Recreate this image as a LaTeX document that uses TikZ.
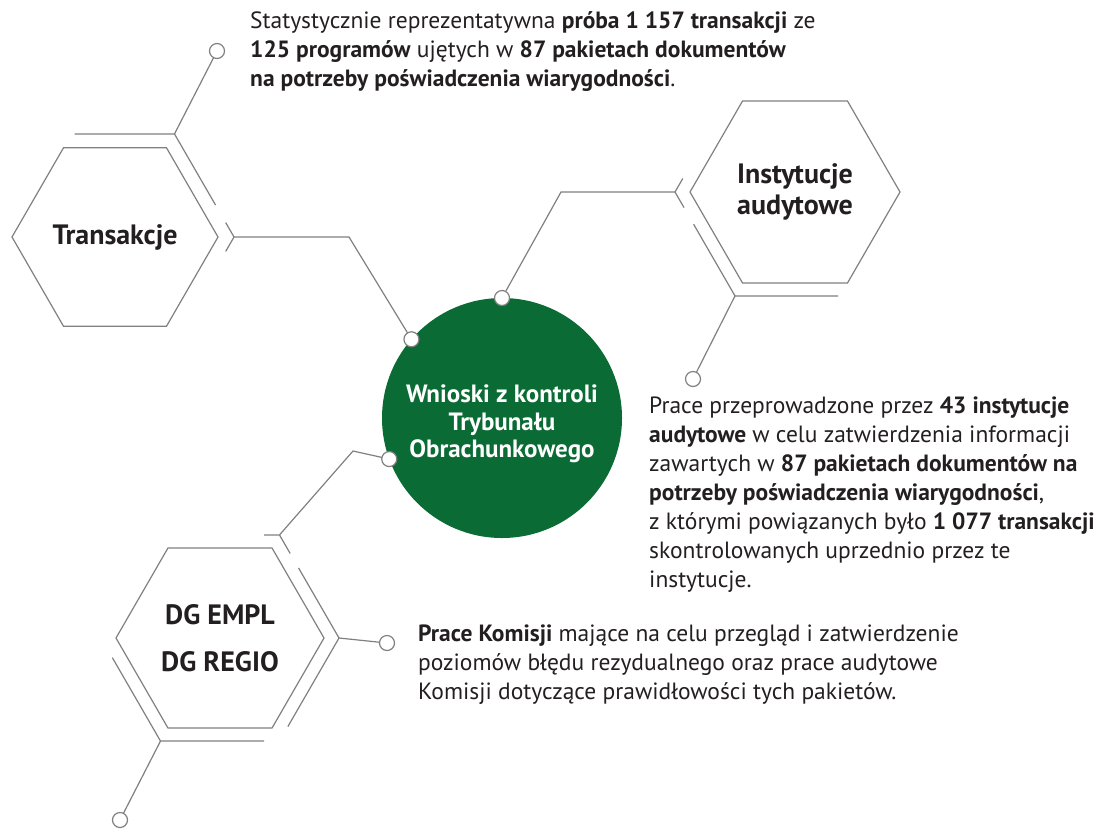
\documentclass[tikz,border=0pt]{standalone}
\usepackage{fontspec}
\setmainfont{PT Sans}
\usetikzlibrary{shapes.geometric, calc}

\definecolor{ecagreen}{RGB}{10,107,52}
\definecolor{linegray}{RGB}{128,128,128}
\definecolor{bodytxt}{RGB}{35,31,32}

\begin{document}
\begin{tikzpicture}[x=1pt, y=-1pt,
    hexa/.style={regular polygon, regular polygon sides=6, minimum size=#1,
        inner sep=0pt, outer sep=0pt},
    hexline/.style={draw=linegray, line width=1.2pt},
    label/.style={font=\fontsize{28}{31}\selectfont\bfseries, text=bodytxt, align=center},
    dot/.style={circle, draw=linegray, line width=1.2pt, fill=white,
        minimum size=15pt, inner sep=0pt, outer sep=0pt},
    body/.style={font=\fontsize{23.5}{29}\selectfont, text=bodytxt, align=left,
        anchor=north west, inner sep=0pt}]

    \useasboundingbox (0,0) rectangle (1099,831);

    % Central circle
    \node[circle, fill=ecagreen, minimum size=240pt, inner sep=0pt, outer sep=0pt]
        (main) at (502,418) {};
    \node[text=white, align=center, font=\fontsize{25}{27.5}\selectfont\bfseries]
        (main-txt) at (502,424) {Wnioski z kontroli\\Trybunału\\Obrachunkowego};
    \node[dot] (m-trans) at (main.139) {};
    \node[dot] (m-inst) at (main.90) {};
    \node[dot] (m-dg) at (main.200) {};

    % Transakcje
    \node[hexa=206pt, hexline, label] (trans) at (115,237) {Transakcje};
    \node[hexa=238pt] (trans-o) at (115,237) {};
    \node[dot] (d-trans) at (217,51) {};
    \draw[hexline] ($(trans-o.120)!0.16!(trans-o.60)$) -- (trans-o.60)
        -- ($(trans-o.60)!0.69!(trans-o.0)$);
    \draw[hexline] ($(trans-o.60)!0.86!(trans-o.0)$) -- (trans-o.0)
        -- ($(trans-o.0)!0.14!(trans-o.300)$);
    \draw[hexline] (trans-o.60) -- (d-trans);
    \draw[hexline] (trans-o.0) -- (349,237) -- (m-trans);

    % Instytucje audytowe
    \node[hexa=210pt, hexline, label] (inst) at (795,192) {Instytucje\\audytowe};
    \node[hexa=240pt] (inst-o) at (795,192) {};
    \node[dot] (d-inst) at (693,379) {};
    \draw[hexline] ($(inst-o.120)!0.87!(inst-o.180)$) -- (inst-o.180)
        -- ($(inst-o.180)!0.15!(inst-o.240)$);
    \draw[hexline] ($(inst-o.180)!0.31!(inst-o.240)$) -- (inst-o.240)
        -- ($(inst-o.240)!0.86!(inst-o.300)$);
    \draw[hexline] (inst-o.240) -- (d-inst);
    \draw[hexline] (inst-o.180) -- (561,192) -- (m-inst);

    % DG EMPL / DG REGIO
    \node[hexa=208pt, hexline, label] (dg) at (220,638) {DG EMPL\\[16pt]DG REGIO};
    \node[hexa=238pt] (dg-o) at (220,638) {};
    \node[dot] (d-dg) at (120,820) {};
    \node[dot] (d-kom) at (387,643) {};
    \draw[hexline] ($(dg-o.120)!0.87!(dg-o.60)$) -- (dg-o.60)
        -- ($(dg-o.60)!0.18!(dg-o.0)$);
    \draw[hexline] ($(dg-o.60)!0.32!(dg-o.0)$) -- (dg-o.0)
        -- ($(dg-o.0)!0.86!(dg-o.300)$);
    \draw[hexline] ($(dg-o.180)!0.19!(dg-o.240)$) -- (dg-o.240)
        -- ($(dg-o.240)!0.87!(dg-o.300)$);
    \draw[hexline] (dg-o.240) -- (d-dg);
    \draw[hexline] (dg-o.0) -- (d-kom);
    \draw[hexline] (dg-o.60) -- (353,451) -- (m-dg);

    % Descriptions
    \node[body] (t-trans) at (250,11) {Statystycznie reprezentatywna \textbf{próba 1 157 transakcji} ze\\
        \textbf{125 programów} ujętych w \textbf{87 pakietach dokumentów}\\
        \textbf{na potrzeby poświadczenia wiarygodności}.};
    \node[body] (t-inst) at (649,397) {Prace przeprowadzone przez \textbf{43 instytucje}\\
        \textbf{audytowe} w celu zatwierdzenia informacji\\
        zawartych w \textbf{87 pakietach dokumentów na}\\
        \textbf{potrzeby poświadczenia wiarygodności},\\
        z którymi powiązanych było \textbf{1 077 transakcji}\\
        skontrolowanych uprzednio przez te\\
        instytucje.};
    \node[body] (t-kom) at (418,625) {\textbf{Prace Komisji} mające na celu przegląd i zatwierdzenie\\
        poziomów błędu rezydualnego oraz prace audytowe\\
        Komisji dotyczące prawidłowości tych pakietów.};
\end{tikzpicture}
\end{document}
